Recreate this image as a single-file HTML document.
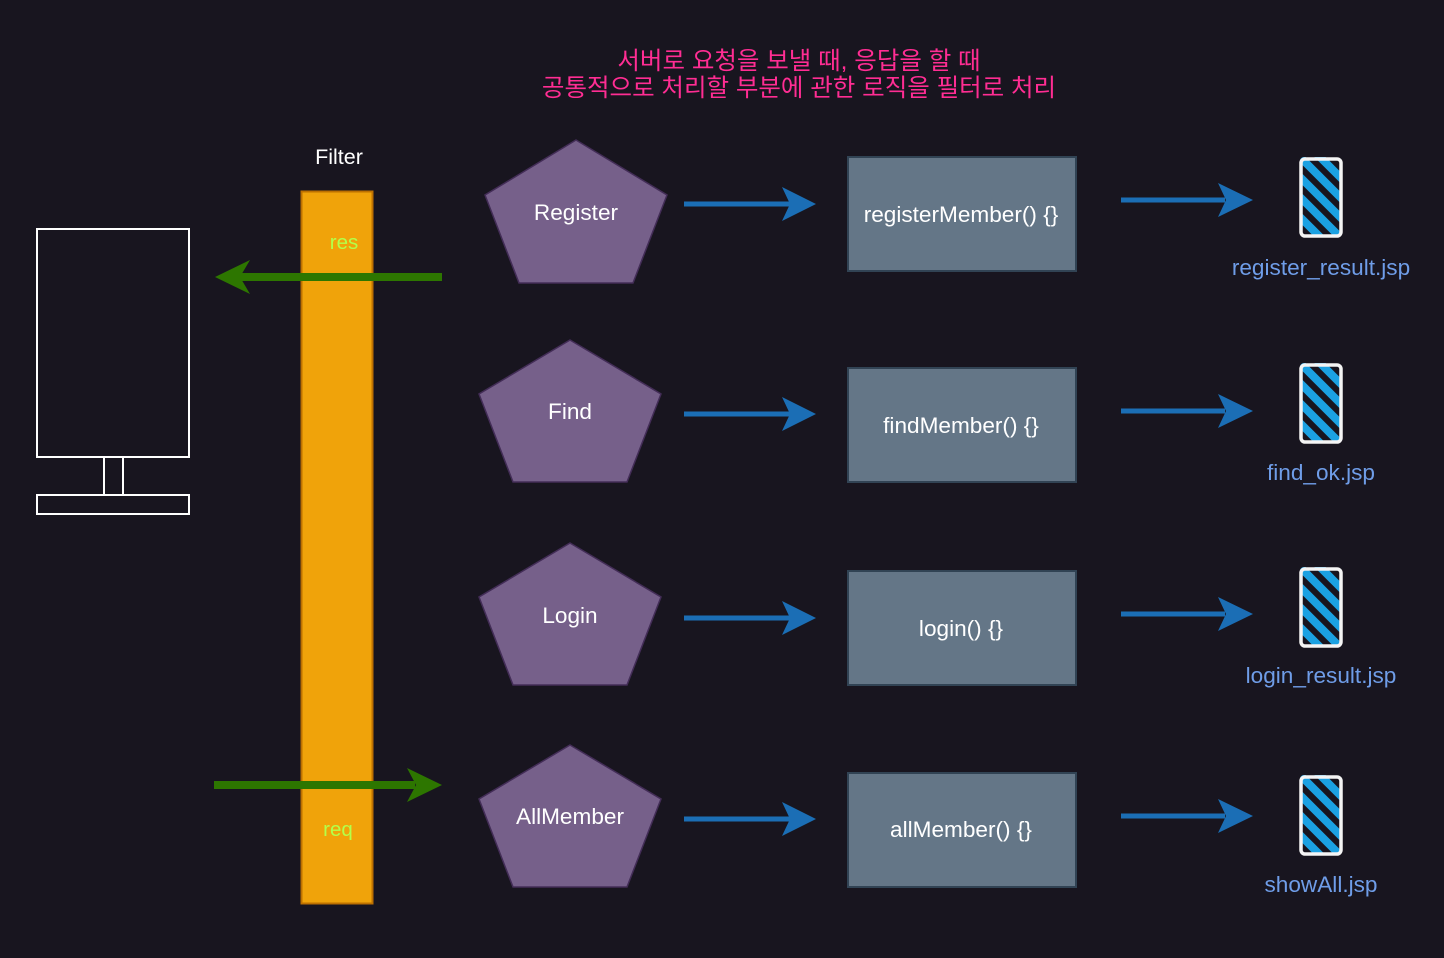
<!DOCTYPE html>
<html><head><meta charset="utf-8"><style>
html,body{margin:0;padding:0;background:#18151f;}
svg{display:block;}
text{font-family:"Liberation Sans","Noto Sans CJK KR",sans-serif;}
</style></head><body>
<svg width="1444" height="958" viewBox="0 0 1444 958" xmlns="http://www.w3.org/2000/svg">
<rect width="1444" height="958" fill="#18151f"/>
<defs>
<g id="ba">
<line x1="684" y1="0" x2="790" y2="0" stroke="#1b6eb5" stroke-width="5"/>
<polygon points="816,0 782,-17 790,0 782,17" fill="#1b6eb5"/>
</g>
<g id="ba2">
<line x1="1121" y1="0" x2="1225" y2="0" stroke="#1b6eb5" stroke-width="5"/>
<polygon points="1253,0 1218,-17 1226,0 1218,17" fill="#1b6eb5"/>
</g>
<clipPath id="pc"><rect x="1300" y="0" width="42" height="80" rx="4"/></clipPath>
<g id="phone">
<g clip-path="url(#pc)">
<rect x="1298" y="-2" width="46" height="84" fill="#18151f"/>
<g stroke="#1ba1e2" stroke-width="8">
<line x1="1290" y1="-10" x2="1350" y2="50"/>
<line x1="1290" y1="10" x2="1350" y2="70"/>
<line x1="1290" y1="30" x2="1350" y2="90"/>
<line x1="1290" y1="50" x2="1350" y2="110"/>
<line x1="1290" y1="-30" x2="1350" y2="30"/>
</g></g>
<rect x="1301" y="2" width="40" height="77" rx="4" fill="none" stroke="#f4f4f4" stroke-width="3.5"/>
</g>
</defs>
<text x="799" y="69" font-size="24.5" fill="#ff2d93" text-anchor="middle">서버로 요청을 보낼 때, 응답을 할 때</text>
<text x="799" y="96" font-size="24.5" fill="#ff2d93" text-anchor="middle">공통적으로 처리할 부분에 관한 로직을 필터로 처리</text>

<rect x="37" y="229" width="152" height="228" fill="none" stroke="#fff" stroke-width="2"/>
<rect x="104" y="457" width="19" height="38" fill="none" stroke="#fff" stroke-width="2"/>
<rect x="37" y="495" width="152" height="19" fill="none" stroke="#fff" stroke-width="2"/>

<text x="339" y="164" font-size="21.5" fill="#fff" text-anchor="middle">Filter</text>
<rect x="301.5" y="191.5" width="71" height="712" fill="#f0a30a" stroke="#bd7000" stroke-width="2"/>
<text x="344" y="249" font-size="20.5" fill="#b3ff4a" text-anchor="middle">res</text>
<text x="338" y="836" font-size="20.5" fill="#b3ff4a" text-anchor="middle">req</text>

<line x1="442" y1="277" x2="240" y2="277" stroke="#2d7600" stroke-width="8"/>
<polygon points="215,277 250,260 240,277 250,294" fill="#2d7600"/>
<line x1="214" y1="785" x2="415" y2="785" stroke="#2d7600" stroke-width="8"/>
<polygon points="442,785 407,768 416,785 407,802" fill="#2d7600"/>

<g fill="#76608a" stroke="#432d57" stroke-width="1.5">
<polygon points="576,140 667,195 633,283 519,283 485,195"/>
<polygon points="570,340 661,394 627,482 513,482 479,394"/>
<polygon points="570,543 661,597 627,685 513,685 479,597"/>
<polygon points="570,745 661,799 627,887 513,887 479,799"/>
</g>
<g font-size="22.6" fill="#fff" text-anchor="middle">
<text x="576" y="220">Register</text>
<text x="570" y="419">Find</text>
<text x="570" y="623">Login</text>
<text x="570" y="824">AllMember</text>
</g>

<use href="#ba" y="204"/><use href="#ba" y="414"/><use href="#ba" y="618"/><use href="#ba" y="819"/>

<g fill="#647687" stroke="#314354" stroke-width="2">
<rect x="848" y="157" width="228" height="114"/>
<rect x="848" y="368" width="228" height="114"/>
<rect x="848" y="571" width="228" height="114"/>
<rect x="848" y="773" width="228" height="114"/>
</g>
<g font-size="22.6" fill="#fff" text-anchor="middle">
<text x="961" y="222">registerMember() {}</text>
<text x="961" y="433">findMember() {}</text>
<text x="961" y="636">login() {}</text>
<text x="961" y="837">allMember() {}</text>
</g>

<use href="#ba2" y="200"/><use href="#ba2" y="411"/><use href="#ba2" y="614"/><use href="#ba2" y="816"/>

<use href="#phone" y="157"/><use href="#phone" y="363"/><use href="#phone" y="567"/><use href="#phone" y="775"/>

<g font-size="22.6" fill="#6f9de8" text-anchor="middle">
<text x="1321" y="275">register_result.jsp</text>
<text x="1321" y="480">find_ok.jsp</text>
<text x="1321" y="683">login_result.jsp</text>
<text x="1321" y="892">showAll.jsp</text>
</g>
</svg>
</body></html>
